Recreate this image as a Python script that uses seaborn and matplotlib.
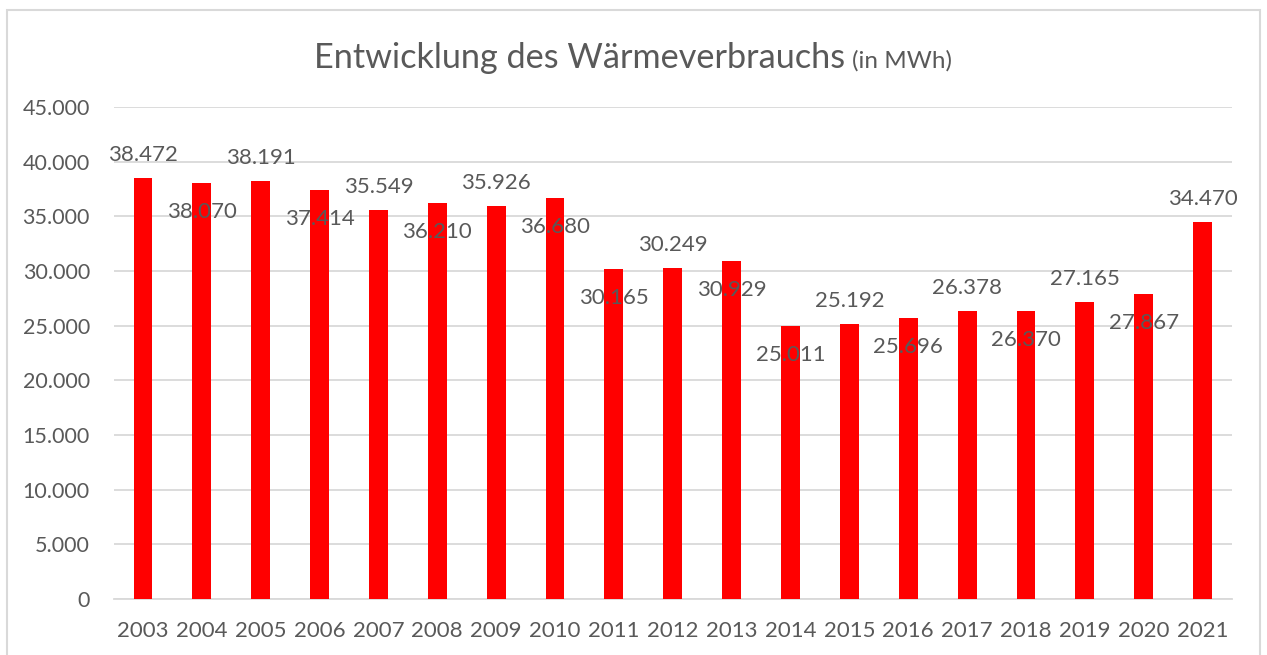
import pandas as pd
import matplotlib
matplotlib.use("Agg")
import matplotlib.pyplot as plt
import seaborn as sns
from matplotlib.patches import Rectangle

# data
years = ["2003", "2004", "2005", "2006", "2007", "2008", "2009", "2010", "2011", "2012",
         "2013", "2014", "2015", "2016", "2017", "2018", "2019", "2020", "2021"]
verbrauch = [38472, 38070, 38191, 37414, 35549, 36210, 35926, 36680, 30165, 30249,
             30929, 25011, 25192, 25696, 26378, 26370, 27165, 27867, 34470]
# where each value label sits: above the bar or inside its top
label_above = [True, False, True, False, True, False, True, False, False, True,
               False, False, True, False, True, False, True, False, True]
y_ticks = [0, 5000, 10000, 15000, 20000, 25000, 30000, 35000, 40000, 45000]

df = pd.DataFrame({"Jahr": years, "MWh": verbrauch})

sns.set_theme(style="white")
plt.rcParams['font.family'] = ['Lato', 'DejaVu Sans']
grey_txt = "#595959"
grid_col = "#d9d9d9"

fig = plt.figure(figsize=(12.67, 6.55), dpi=100)
ax = fig.add_axes([113.5 / 1267, 1 - 599 / 655, (1232 - 113.5) / 1267, (599 - 107) / 655])

sns.barplot(data=df, x="Jahr", y="MWh", color="#ff0000", width=0.32, saturation=1,
            edgecolor="none", ax=ax, zorder=3)

ax.set_ylim(0, 45000)
ax.set_xlim(-0.5, len(years) - 0.5)
ax.set_yticks(y_ticks)
ax.set_yticklabels([f"{v:,}".replace(",", ".") for v in y_ticks])
ax.yaxis.grid(True, color=grid_col, linewidth=1.3, zorder=0)
ax.set_xlabel("")
ax.set_ylabel("")
ax.tick_params(axis="both", length=0, labelsize=16, labelcolor=grey_txt)
ax.tick_params(axis="y", labelsize=15.5, pad=17)
ax.tick_params(axis="x", pad=15.5)
for s in ["top", "right", "left"]:
    ax.spines[s].set_visible(False)
ax.spines["bottom"].set_color(grid_col)
ax.spines["bottom"].set_linewidth(1.3)

# value labels
for i, v in enumerate(verbrauch):
    lab = f"{v:,}".replace(",", ".")
    off = 17 if label_above[i] else -35
    ax.annotate(lab, (i, v), xytext=(0, off), textcoords="offset pixels",
                ha="center", va="baseline", fontsize=16, color=grey_txt, zorder=5)

# title in two sizes
fig.text(845 / 1267, 1 - 68 / 655, "Entwicklung des Wärmeverbrauchs", ha="right",
         va="baseline", fontsize=24.7, color=grey_txt)
fig.text(852 / 1267, 1 - 68 / 655, "(in MWh)", ha="left", va="baseline",
         fontsize=17.5, color=grey_txt)

# chart frame
fig.patches.append(Rectangle((7 / 1267, -0.1), (1260 - 7) / 1267, 1.1 - 10 / 655,
                             transform=fig.transFigure, fill=False,
                             edgecolor=grid_col, linewidth=1.5))

fig.savefig("out.png", dpi=100)
